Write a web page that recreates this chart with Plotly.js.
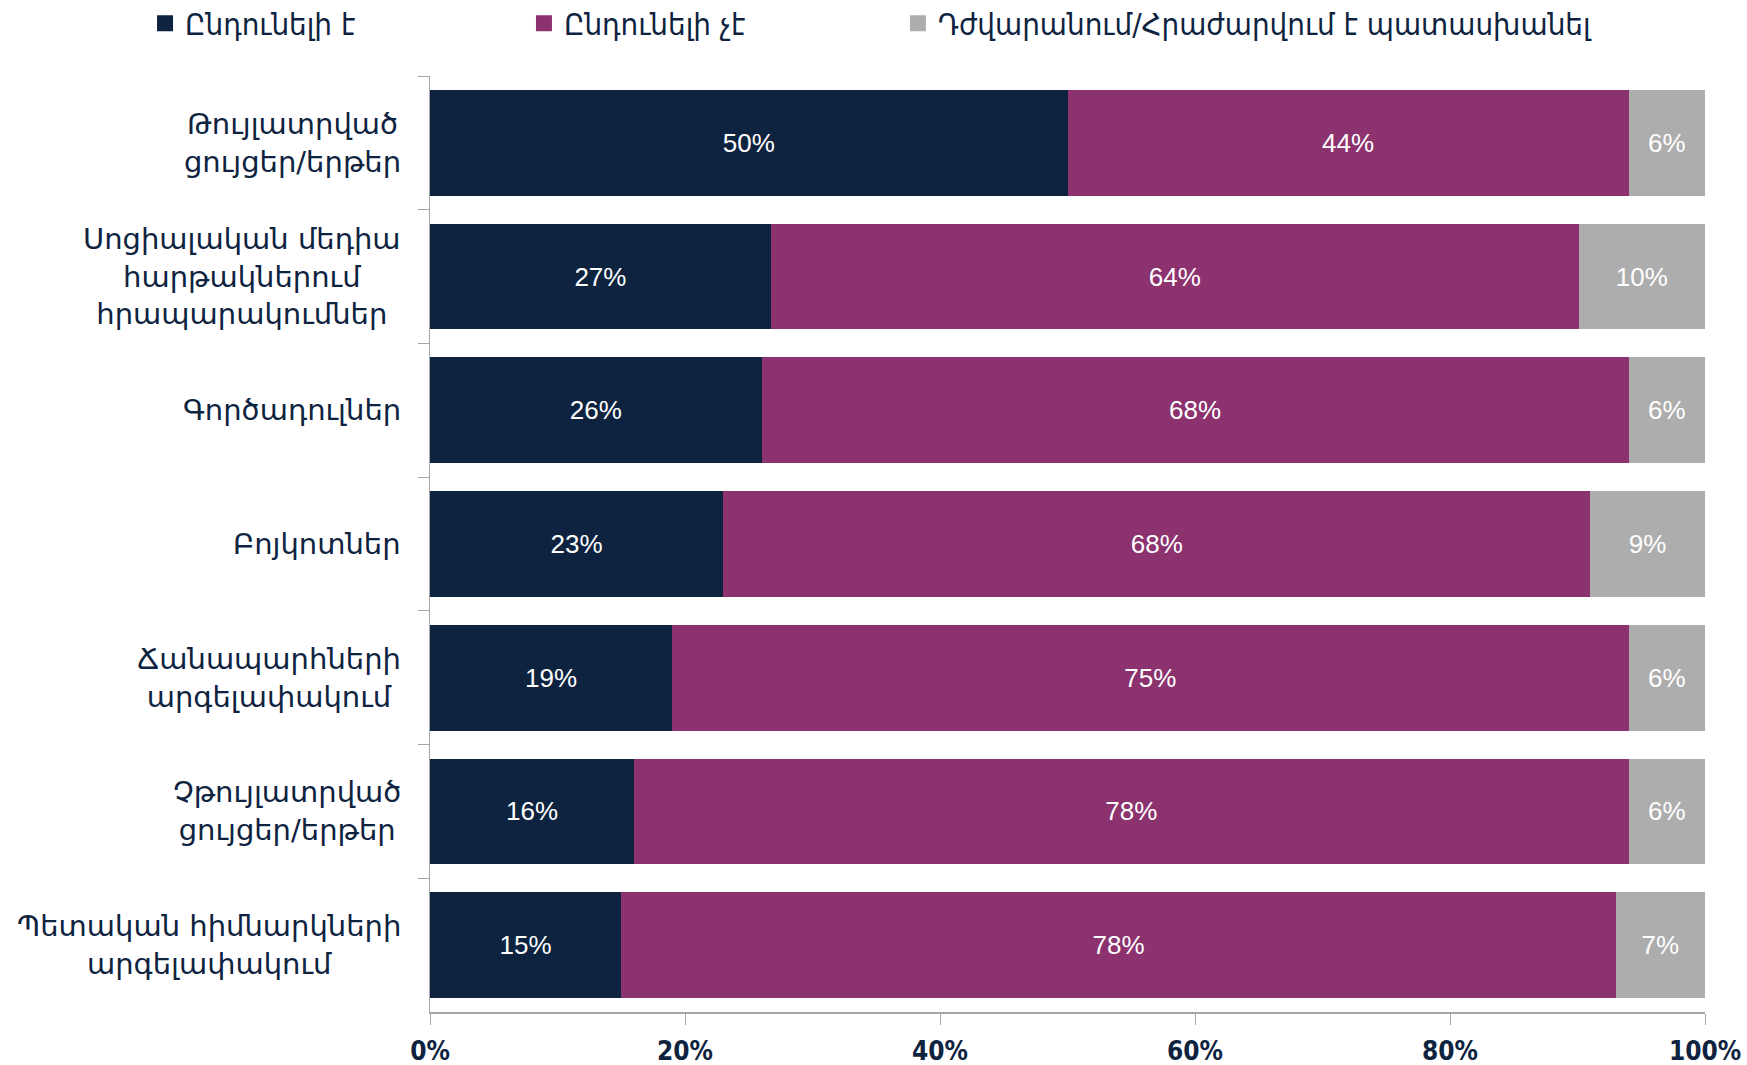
<!DOCTYPE html>
<html>
<head>
<meta charset="utf-8">
<script src="https://cdn.plot.ly/plotly-3.0.1.min.js"></script>
<style>
html,body{margin:0;padding:0;background:#fff;}
#chart{width:1747px;height:1065px;}
</style>
</head>
<body>
<div id="chart"></div>
<script>
const categories = [
  "Թույլատրված<br>ցույցեր/երթեր",
  "Սոցիալական մեդիա<br>հարթակներում<br>հրապարակումներ",
  "Գործադուլներ",
  "Բոյկոտներ",
  "Ճանապարհների<br>արգելափակում",
  "Չթույլատրված<br>ցույցեր/երթեր",
  "Պետական հիմնարկների<br>արգելափակում"
];
const seriesNames = ["Ընդունելի է", "Ընդունելի չէ", "Դժվարանում/Հրաժարվում է պատասխանել"];
const acceptable    = [50, 27, 26, 23, 19, 16, 15];
const notAcceptable = [44, 64, 68, 68, 75, 78, 78];
const hardToSay     = [6, 10, 6, 9, 6, 6, 7];
const xTicks = [0, 20, 40, 60, 80, 100];

const colors = ["#0E2340", "#8C326E", "#ADADAD"];
const allSeries = [acceptable, notAcceptable, hardToSay];
const legendIds = ["legend", "legend2", "legend3"];
const legendX = [-0.2235, 0.0737, 0.367];

const barTraces = allSeries.map((vals, i) => ({
  type: "bar",
  orientation: "h",
  name: seriesNames[i],
  showlegend: false,
  x: vals,
  y: categories,
  text: vals.map(v => v + "%"),
  texttemplate: "%{text}",
  textposition: "inside",
  insidetextanchor: "middle",
  textangle: 0,
  constraintext: "none",
  textfont: {family: "Liberation Sans, Arial, sans-serif", size: 26, color: "#FFFFFF"},
  marker: {color: colors[i], line: {width: 0}},
  hoverinfo: "skip"
}));

// legend-only entries (square swatches like the original legend)
const legendTraces = seriesNames.map((n, i) => ({
  type: "scatter",
  mode: "markers",
  name: n,
  legend: legendIds[i],
  showlegend: true,
  x: [null],
  y: [null],
  marker: {symbol: "square", size: 16, color: colors[i]},
  hoverinfo: "skip"
}));

const annotations = categories.map(c => ({
  xref: "paper", yref: "y",
  x: -0.021, y: c,
  xanchor: "right", yanchor: "middle",
  align: "center",
  text: c,
  showarrow: false,
  font: {family: "DejaVu Sans, sans-serif", size: 29, color: "#0E2340"}
}));

const legendFont = {family: "DejaVu Sans Condensed, DejaVu Sans, sans-serif", size: 31, color: "#0E2340"};

const layout = {
  width: 1747, height: 1065,
  margin: {l: 430, r: 42, t: 76, b: 53, autoexpand: false},
  paper_bgcolor: "#FFFFFF",
  plot_bgcolor: "#FFFFFF",
  barmode: "stack",
  barnorm: "percent",
  bargap: 0.21,
  showlegend: true,
  xaxis: {
    range: [0, 100],
    tickvals: xTicks,
    ticktext: xTicks.map(v => v + "%"),
    showgrid: false,
    zeroline: false,
    showline: true,
    linecolor: "#A6A6A6",
    linewidth: 1.5,
    ticks: "outside",
    ticklen: 11,
    tickcolor: "#A6A6A6",
    ticklabelstandoff: 4,
    tickfont: {family: "DejaVu Sans Condensed, DejaVu Sans, sans-serif", size: 26, color: "#0E2340", weight: "bold"},
    fixedrange: true
  },
  yaxis: {
    type: "category",
    categoryarray: categories,
    autorange: "reversed",
    showticklabels: false,
    showgrid: false,
    zeroline: false,
    showline: true,
    linecolor: "#A6A6A6",
    linewidth: 1.5,
    ticks: "outside",
    tickson: "boundaries",
    ticklen: 11,
    tickcolor: "#A6A6A6",
    fixedrange: true
  },
  annotations: annotations
};

legendIds.forEach((id, i) => {
  layout[id] = {
    orientation: "h",
    x: legendX[i], xanchor: "left",
    y: 1.056, yanchor: "middle",
    font: legendFont,
    itemsizing: "trace",
    bgcolor: "rgba(0,0,0,0)",
    itemclick: false, itemdoubleclick: false
  };
});

Plotly.newPlot("chart", barTraces.concat(legendTraces), layout, {displayModeBar: false, staticPlot: true});
</script>
</body>
</html>
